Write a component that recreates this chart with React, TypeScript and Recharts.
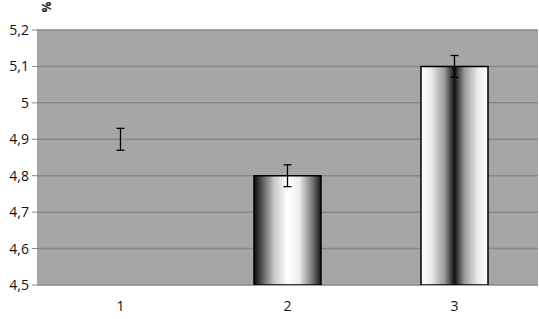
import React from "react";
import { BarChart, Bar, XAxis, YAxis, CartesianGrid, ErrorBar, Cell } from "recharts";

const categories = ["1", "2", "3"];
const values = [4.9, 4.8, 5.1];
const errors = [0.03, 0.03, 0.03];
const yTicks = [4.5, 4.6, 4.7, 4.8, 4.9, 5.0, 5.1, 5.2];
const boundaryTicks = [0, 1, 2, 3];

const data = categories.map((c, i) => ({ name: c, value: values[i], err: errors[i] }));
const fills = ["transparent", "url(#gradA)", "url(#gradB)"];
const strokes = ["none", "#000", "#000"];

const font = "'Open Sans', 'DejaVu Sans', sans-serif";

const PercentLabel = (props: any) => {
  const vb = props.viewBox || {};
  const x = (vb.x || 0) + (vb.width || 0) + 9;
  const y = 7;
  return (
    <text x={x} y={y} transform={`rotate(90 ${x} ${y})`} textAnchor="middle" dominantBaseline="central"
      fontFamily={font} fontSize={12} fontWeight="bold" fill="#222">%</text>
  );
};

export default function App() {
  return (
    <div style={{ position: "absolute", left: 0, top: 0, width: 539, height: 319, background: "#fff" }}>
      <BarChart width={539} height={319} data={data} margin={{ top: 30, right: 1, left: 0, bottom: 0 }}>
        <defs>
          <linearGradient id="gradA" x1="0" y1="0" x2="1" y2="0">
            <stop offset="0%" stopColor="#0a0a0a" />
            <stop offset="10%" stopColor="#4a4a4a" />
            <stop offset="30%" stopColor="#c8c8c8" />
            <stop offset="50%" stopColor="#ffffff" />
            <stop offset="68%" stopColor="#ececec" />
            <stop offset="88%" stopColor="#707070" />
            <stop offset="100%" stopColor="#151515" />
          </linearGradient>
          <linearGradient id="gradB" x1="0" y1="0" x2="1" y2="0">
            <stop offset="0%" stopColor="#ffffff" />
            <stop offset="15%" stopColor="#ececec" />
            <stop offset="35%" stopColor="#9a9a9a" />
            <stop offset="50%" stopColor="#111111" />
            <stop offset="65%" stopColor="#9a9a9a" />
            <stop offset="85%" stopColor="#ececec" />
            <stop offset="100%" stopColor="#ffffff" />
          </linearGradient>
        </defs>
        <CartesianGrid vertical={false} stroke="#878787" strokeWidth={1.5} fill="#a6a6a6" fillOpacity={1} xAxisId="cat" />
        <XAxis xAxisId="grid" type="number" domain={[0, 3]} ticks={boundaryTicks} tick={false}
          height={0} axisLine={{ stroke: "#878787", strokeWidth: 1.5 }} tickLine={{ stroke: "#878787" }} tickSize={5} />
        <XAxis xAxisId="cat" dataKey="name" height={34} axisLine={false} tickLine={false} tickMargin={10}
          tick={{ fontFamily: font, fontSize: 14, fill: "#111" }} interval={0} />
        <YAxis domain={[4.5, 5.2]} ticks={yTicks} width={37} axisLine={false}
          tickLine={{ stroke: "#878787" }} tickSize={5} tickMargin={3}
          tickFormatter={(v: number) => String(Math.round(v * 10) / 10).replace(".", ",")}
          tick={{ fontFamily: font, fontSize: 14, fill: "#111" }} allowDataOverflow
          label={<PercentLabel />} />
        <Bar dataKey="value" xAxisId="cat" barSize={67} isAnimationActive={false} strokeWidth={1.5}>
          {data.map((d, i) => (
            <Cell key={d.name} fill={fills[i]} stroke={strokes[i]} />
          ))}
          <ErrorBar dataKey="err" width={4} stroke="#000" strokeWidth={1.3} direction="y" />
        </Bar>
      </BarChart>
    </div>
  );
}
